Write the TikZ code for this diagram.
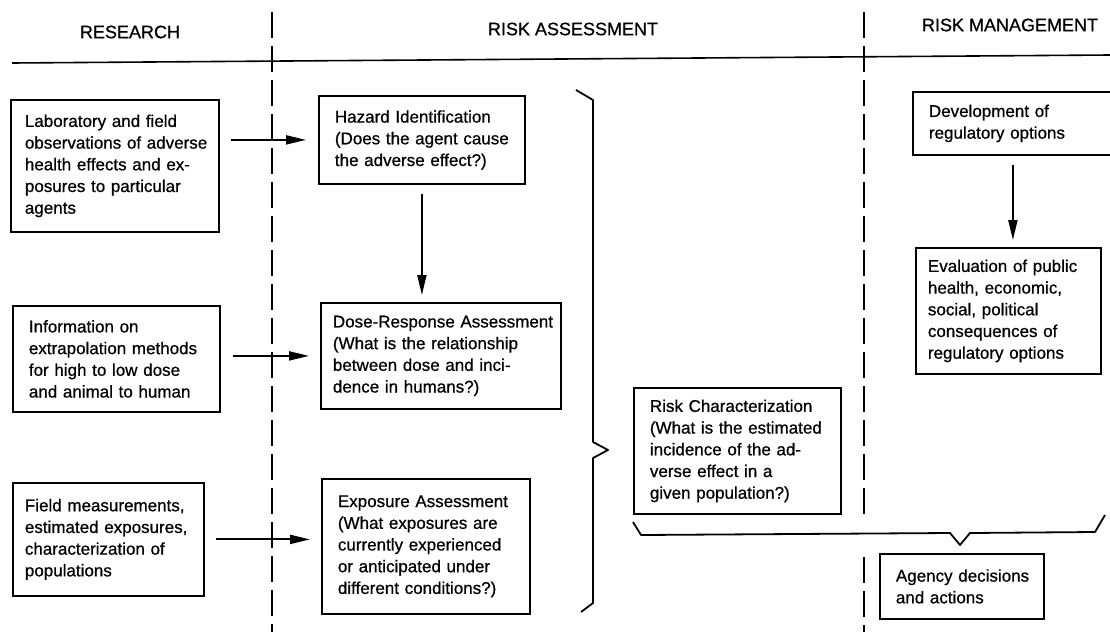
\documentclass[tikz,border=0pt]{standalone}
\usepackage{fontspec}
\setmainfont{Liberation Sans}
\newfontfamily\heavy{Liberation Sans}[FakeBold=0.7]
\usetikzlibrary{arrows.meta}
\newcommand\boxfont{\heavy\fontsize{17}{21.7}\selectfont}
\newcommand\headfont{\heavy\fontsize{18}{20}\selectfont}
\newcommand\Lb[1]{\mbox{#1}}
\tikzset{
  box/.style={draw, line width=1.8pt, anchor=north west, align=left, font=\boxfont, inner ysep=3pt},
  arr/.style={line width=1.9pt, -{Triangle[length=20pt,width=9pt]}},
  head/.style={font=\headfont, inner sep=0pt},
  dashline/.style={line width=1.5pt, dash pattern=on 26pt off 8pt},
  rule/.style={line width=1.6pt},
  brace/.style={line width=1.8pt, line join=round}
}
\begin{document}
\begin{tikzpicture}[x=1pt,y=-1pt]
\useasboundingbox (0,0) rectangle (1110,632);
% headers
\node[head] (hres) at (130,32) {RESEARCH};
\node[head] (hass) at (573,29) {RISK ASSESSMENT};
\node[head] (hman) at (1010,25) {RISK MANAGEMENT};
% rules
\draw[rule] (12,63) -- (1110,55);
\draw[dashline] (272,12) -- (272,632);
\draw[dashline] (864,12) -- (864,517);
\draw[dashline] (864,557) -- (864,632);
% research boxes
\node[box, inner xsep=14pt, text width=180pt, minimum height=132pt] (lab) at (10,99)
 {\Lb{Laboratory and field}\\\Lb{observations of adverse}\\\Lb{health effects and ex-}\\\Lb{posures to particular}\\\Lb{agents}};
\node[box, inner xsep=16pt, text width=175pt, minimum height=106pt] (info) at (12,305)
 {\Lb{Information on}\\\Lb{extrapolation methods}\\\Lb{for high to low dose}\\\Lb{and animal to human}};
\node[box, inner xsep=12pt, text width=167pt, minimum height=113pt] (field) at (12,482)
 {\Lb{Field measurements,}\\\Lb{estimated exposures,}\\\Lb{characterization of}\\\Lb{populations}};
% assessment boxes
\node[box, inner xsep=16pt, text width=174pt, minimum height=88pt] (haz) at (318,95)
 {\Lb{Hazard Identification}\\\Lb{(Does the agent cause}\\\Lb{the adverse effect?)}};
\node[box, inner xsep=12pt, text width=216pt, minimum height=106pt] (dose) at (320,302)
 {\Lb{Dose-Response Assessment}\\\Lb{(What is the relationship}\\\Lb{between dose and inci-}\\\Lb{dence in humans?)}};
\node[box, inner xsep=16pt, text width=176pt, minimum height=135pt] (expo) at (321,478)
 {\Lb{Exposure Assessment}\\\Lb{(What exposures are}\\\Lb{currently experienced}\\\Lb{or anticipated under}\\\Lb{different conditions?)}};
\node[box, inner xsep=16pt, text width=175pt, minimum height=126pt] (rchar) at (633,387)
 {\Lb{Risk Characterization}\\\Lb{(What is the estimated}\\\Lb{incidence of the ad-}\\\Lb{verse effect in a}\\\Lb{given population?)}};
% management boxes
\node[box, inner xsep=16pt, text width=168pt, minimum height=63pt] (dev) at (912,91)
 {\Lb{Development of}\\\Lb{regulatory options}};
\node[box, inner xsep=12pt, text width=161pt, minimum height=126pt] (eval) at (915,247)
 {\Lb{Evaluation of public}\\\Lb{health, economic,}\\\Lb{social, political}\\\Lb{consequences of}\\\Lb{regulatory options}};
\node[box, inner xsep=16pt, text width=132pt, minimum height=65pt] (agency) at (879,553)
 {\Lb{Agency decisions}\\\Lb{and actions}};
% arrows
\draw[arr, shorten <=11pt, shorten >=12pt] (lab.east |- haz.west) -- (haz.west);
\draw[arr, shorten <=12pt, shorten >=11pt] (info.east |- dose.west) -- (dose.west);
\draw[arr, shorten <=11pt, shorten >=11pt] (field.east) -- (field.east -| expo.west);
\draw[arr, shorten <=9pt, shorten >=7pt] (haz.south) -- (haz.south |- dose.north);
\draw[arr, shorten <=9pt, shorten >=7pt] (dev.south) -- (dev.south |- eval.north);
% big brace
\draw[brace] (576,90) -- (593,100) -- (593,442) -- (608,450) -- (593,458) -- (593,603) -- (581,612);
% bottom brace
\draw[brace] (633,522) -- (641,535) -- (950,533) -- (960,545) -- (970,533) -- (1095,532) -- (1105,515);
\end{tikzpicture}
\end{document}
